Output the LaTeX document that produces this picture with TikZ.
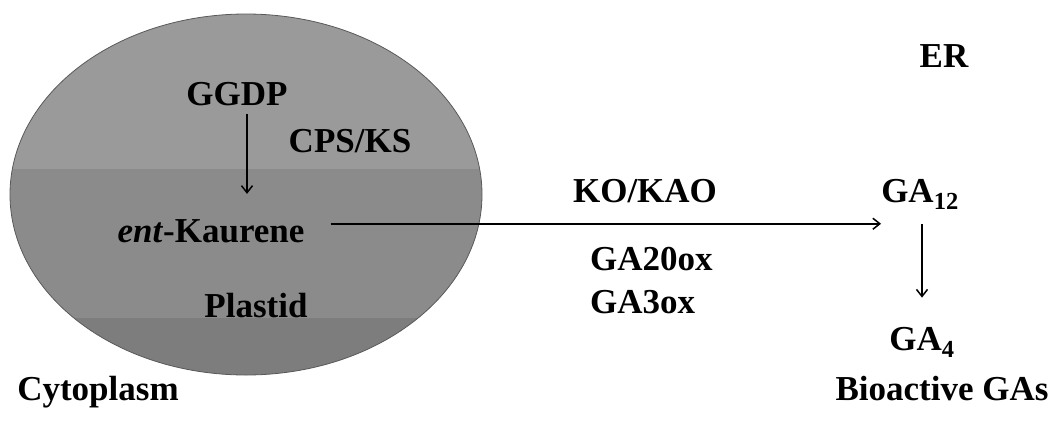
\documentclass[tikz,border=0pt]{standalone}
\usepackage{fontspec}
\setmainfont{Liberation Serif}
\usepackage{tikz}
\usetikzlibrary{arrows.meta}
\usetikzlibrary{calc}

\definecolor{bandtop}{HTML}{9A9A9A}
\definecolor{bandmid}{HTML}{8B8B8B}
\definecolor{bandlow}{HTML}{7D7D7D}

\begin{document}
\begin{tikzpicture}[
        x=1pt, y=-1pt,
        font=\fontsize{35}{40}\selectfont\bfseries,
        label/.style={inner sep=0pt, anchor=base},
        flow/.style={-{Straight Barb[length=7pt,width=11pt]}, line width=1.5pt}
    ]
        \useasboundingbox (0,0) rectangle (1057,421);

        % --- Plastidio con bandas grises ---
        \begin{scope}
            \clip (246,194.5) ellipse [x radius=236, y radius=180.5];
            \fill[bandtop] (0,0) rectangle (500,169);
            \fill[bandmid] (0,169) rectangle (500,318);
            \fill[bandlow] (0,318) rectangle (500,400);
        \end{scope}
        \draw[line width=0.8pt, black!65] (246,194.5) ellipse [x radius=236, y radius=180.5];

        % --- Textos ---
        \node[label] (ggdp) at (237,105) {GGDP};
        \node[label] (cpsks) at (350,152) {CPS/KS};
        \node[label] (kaurene) at (211,242) {\textit{ent}-Kaurene};
        \node[label] (plastid) at (256,317) {Plastid};
        \node[label] (cytoplasm) at (98,400) {Cytoplasm};

        \node[label] (kokao) at (645,202) {KO/KAO};
        \node[label, anchor=base west] (ga20ox) at (590,270) {GA20ox};
        \node[label, anchor=base west] (ga3ox) at (590,313) {GA3ox};

        \node[label] (er) at (944,67) {ER};
        \node[label] (ga12) at (920,202) {GA\textsubscript{12}};
        \node[label] (ga4) at (922,350) {GA\textsubscript{4}};
        \node[label] (bioactive) at (942,400) {Bioactive GAs};

        % --- Flechas ---
        \draw[flow, shorten <=8pt, shorten >=25pt]
            ([xshift=10pt]ggdp.south) -- ([xshift=10pt]ggdp.south |- kaurene.north);
        \draw[flow]
            ([xshift=26pt,yshift=7pt]kaurene.east) -- ([yshift=7pt]kaurene.east -| ga12.west);
        \draw[flow, shorten <=14pt, shorten >=29pt]
            ([xshift=2pt]ga12.south) -- ([xshift=2pt]ga12.south |- ga4.north);

    \end{tikzpicture}
\end{document}
